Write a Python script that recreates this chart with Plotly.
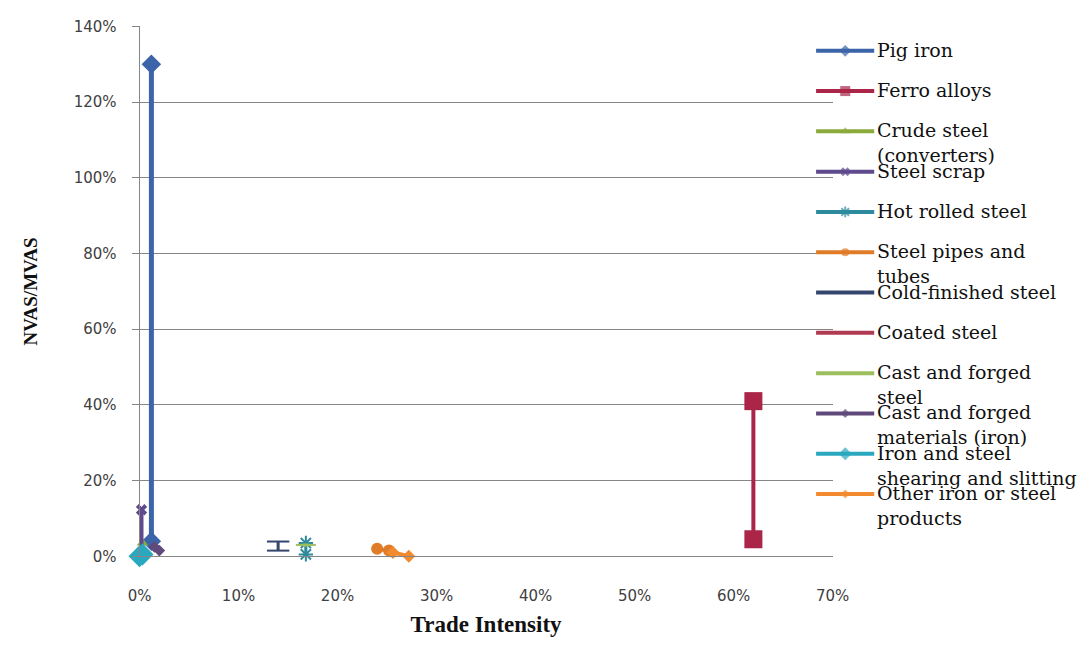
import plotly.graph_objects as go

W, H = 1091, 645

series_names = [
    "Pig iron", "Ferro alloys", "Crude steel (converters)", "Steel scrap",
    "Hot rolled steel", "Steel pipes and tubes", "Cold-finished steel",
    "Coated steel", "Cast and forged steel", "Cast and forged materials (iron)",
    "Iron and steel shearing and slitting", "Other iron or steel products",
]
legend_labels = [
    "Pig iron", "Ferro alloys", "Crude steel<br>(converters)", "Steel scrap",
    "Hot rolled steel", "Steel pipes and<br>tubes", "Cold-finished steel",
    "Coated steel", "Cast and forged<br>steel", "Cast and forged<br>materials (iron)",
    "Iron and steel<br>shearing and slitting", "Other iron or steel<br>products",
]

# Trade intensity (x) and NVAS/MVAS (y), as fractions
pig_iron_x = [0.012, 0.012]
pig_iron_y = [1.30, 0.04]
ferro_x = [0.620, 0.620]
ferro_y = [0.41, 0.045]
crude_x = [0.003, 0.002]
crude_y = [0.035, 0.015]
scrap_x = [0.002, 0.002]
scrap_y = [0.123, 0.010]
hot_x = [0.168, 0.168]
hot_y = [0.035, 0.005]
pipes_x = [0.240, 0.252]
pipes_y = [0.020, 0.015]
cold_x = [0.140, 0.140]
cold_y = [0.039, 0.015]
coated_x = [0.005, 0.006]
coated_y = [0.010, 0.005]
cast_steel_x = [0.165, 0.171]
cast_steel_y = [0.030, 0.030]
cast_iron_x = [0.015, 0.020]
cast_iron_y = [0.025, 0.015]
shear_x = [0.000, 0.003]
shear_y = [0.000, 0.005]
other_x = [0.256, 0.272]
other_y = [0.010, 0.000]

series_x = [pig_iron_x, ferro_x, crude_x, scrap_x, hot_x, pipes_x, cold_x,
            coated_x, cast_steel_x, cast_iron_x, shear_x, other_x]
series_y = [pig_iron_y, ferro_y, crude_y, scrap_y, hot_y, pipes_y, cold_y,
            coated_y, cast_steel_y, cast_iron_y, shear_y, other_y]

# color, line width, marker symbol, marker size (plot / key), marker outline width
styles = [
    ("#3C64A8", 5, "diamond", 15, 9, 0),
    ("#AA2548", 4, "square", 18, 10, 0),
    ("#8AAA3C", 3, "triangle-up", 10, 8, 0),
    ("#5E4A8C", 4, "x", 10, 8, 0),
    ("#2E8B9E", 3, "asterisk-open", 12, 9, 2),
    ("#E07B28", 4, "circle", 12, 8, 0),
    ("#34466E", 3, "line-ew-open", 16, 10, 2),
    ("#B03A52", 3, None, 0, 0, 0),
    ("#9DBE5C", 3, "line-ew-open", 10, 8, 2),
    ("#604A7B", 3, "diamond", 9, 7, 0),
    ("#2AA8C0", 4, "diamond", 17, 10, 0),
    ("#F28A30", 4, "diamond", 10, 7, 0),
]

fig = go.Figure()

# data series
for name, xs, ys, st in zip(series_names, series_x, series_y, styles):
    color, lw, sym, msize, _, mlw = st
    marker = None
    mode = "lines"
    if sym:
        mode = "lines+markers"
        marker = dict(symbol=sym, size=msize, color=color,
                      line=dict(color=color, width=mlw))
    fig.add_trace(go.Scatter(
        x=xs, y=ys, name=name, mode=mode,
        line=dict(color=color, width=lw), marker=marker,
        cliponaxis=False, showlegend=False, xaxis="x", yaxis="y",
    ))

# key: one sample per series on a hidden axis pair, label beside it
for i, (label, st) in enumerate(zip(legend_labels, styles)):
    color, lw, sym, _, lsize, mlw = st
    marker = None
    mode = "lines"
    if sym:
        mode = "lines+markers"
        marker = dict(symbol=sym, size=[0, lsize, 0], color=color,
                      line=dict(color=color, width=mlw))
    fig.add_trace(go.Scatter(
        x=[0, 0.5, 1], y=[i, i, i], mode=mode,
        line=dict(color=color, width=4), marker=marker,
        showlegend=False, hoverinfo="skip", cliponaxis=False,
        xaxis="x2", yaxis="y2",
    ))
    fig.add_annotation(
        x=1, y=i, xref="x2", yref="y2", text=label, showarrow=False,
        xanchor="left", yanchor="top", align="left", xshift=1, yshift=14,
        font=dict(family="DejaVu Serif", size=19, color="#111111"),
    )

grid = "#868686"
tick_font = dict(family="DejaVu Sans", size=15, color="#404040")

fig.update_layout(
    width=W, height=H,
    margin=dict(l=0, r=0, t=0, b=0, pad=0),
    # transparent plot backgrounds so the key's axis area does not hide gridlines
    paper_bgcolor="white", plot_bgcolor="rgba(0,0,0,0)",
    xaxis=dict(
        domain=[131 / W, 843 / W], range=[0, 0.70001], dtick=0.1,
        tickformat=".0%", showgrid=False, zeroline=False,
        showline=True, linecolor=grid, ticks="",
        tickfont=tick_font, ticklabelstandoff=26, anchor="y",
        title=dict(text="<b>Trade Intensity</b>", standoff=11,
                   font=dict(family="Liberation Serif", size=23, color="#111111")),
    ),
    yaxis=dict(
        domain=[82 / H, 627 / H], range=[0, 1.4], dtick=0.2,
        tickformat=".0%", showgrid=True, gridcolor=grid, gridwidth=1,
        zeroline=False, showline=True, linecolor=grid,
        ticks="outside", ticklen=7, tickcolor=grid,
        tickfont=tick_font, ticklabelstandoff=12, anchor="x",
        title=dict(text="<b>NVAS/MVAS</b>", standoff=30,
                   font=dict(family="Liberation Serif", size=19, color="#111111")),
    ),
    xaxis2=dict(domain=[826 / W, 886 / W], range=[0, 1], visible=False,
                anchor="y2", fixedrange=True),
    yaxis2=dict(domain=[0, 1], range=[14.524, -1.037], visible=False,
                anchor="x2", fixedrange=True),
)

fig.write_html("out.html")
